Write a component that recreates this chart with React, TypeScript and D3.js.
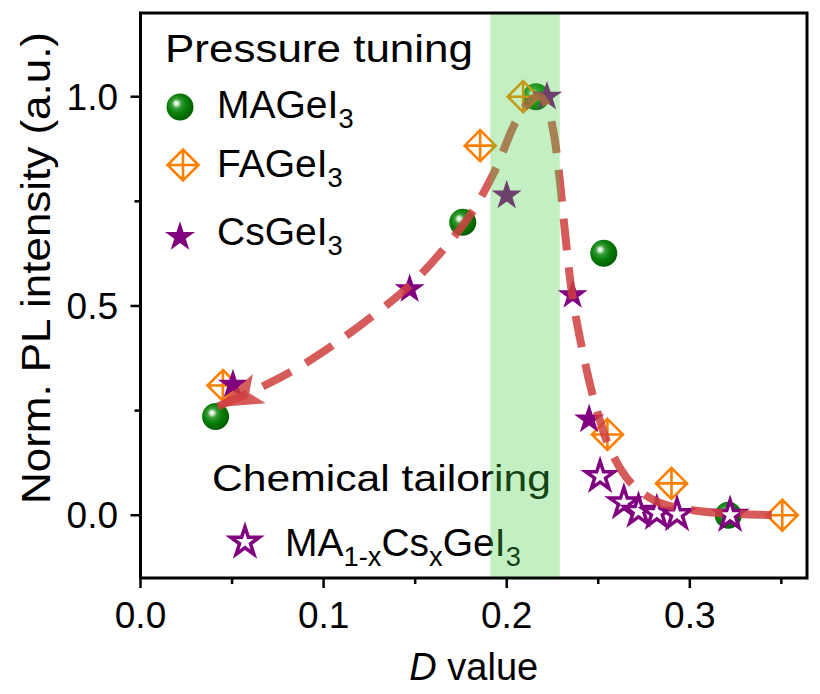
import { useEffect, useRef } from "react";
import * as d3 from "d3";

// MAGeI3 (pressure tuning)
const maD = [0.041, 0.176, 0.216, 0.253, 0.321];
const maI = [0.236, 0.7, 1.0, 0.626, 0.0];
// FAGeI3 (pressure tuning)
const faD = [0.045, 0.1855, 0.209, 0.255, 0.29, 0.3505];
const faI = [0.31, 0.883, 1.0, 0.193, 0.076, 0.0];
// CsGeI3 (pressure tuning)
const csD = [0.0505, 0.147, 0.2, 0.222, 0.236, 0.245];
const csI = [0.312, 0.54, 0.764, 1.0, 0.526, 0.229];
// MA1-xCsxGeI3 (chemical tailoring)
const mixD = [0.251, 0.264, 0.272, 0.282, 0.293, 0.322];
const mixI = [0.093, 0.03, 0.01, 0.005, 0.002, 0.0];
// guide curve (dashed, arrow at the low-D end)
const guideD = [
  0.0423, 0.0653, 0.085, 0.1063, 0.1309, 0.1473, 0.1637, 0.18, 0.1937, 0.2047,
  0.2128, 0.2172, 0.2216, 0.2254, 0.2287, 0.232, 0.2358, 0.2413, 0.2484, 0.2566,
  0.2675, 0.2828, 0.3057, 0.3303, 0.3484,
];
const guideI = [
  0.26, 0.305, 0.35, 0.41, 0.49, 0.55, 0.626, 0.717, 0.824, 0.938,
  0.99, 1.002, 0.983, 0.919, 0.812, 0.669, 0.526, 0.395, 0.264, 0.157,
  0.079, 0.031, 0.0095, 0.0024, 0.0,
];
const bandD = [0.191, 0.229];

const xTicks = [0, 0.1, 0.2, 0.3];
const xMinor = [0.05, 0.15, 0.25, 0.35];
const yTicks = [0, 0.5, 1.0];
const yMinor = [0.25, 0.75];

const width = 820;
const height = 694;
const FONT = "'Liberation Sans', Arial, sans-serif";

type Part = { t: string; sub?: boolean };

export default function App() {
  const svgRef = useRef<SVGSVGElement>(null);

  useEffect(() => {
    if (!svgRef.current) return;
    const svg = d3.select(svgRef.current);
    svg.selectAll("*").remove();

    const margin = { top: 13, right: 13, bottom: 116, left: 140.5 };
    const x = d3.scaleLinear().domain([0, 0.364]).range([margin.left, width - margin.right]);
    const y = d3.scaleLinear().domain([-0.15, 1.2]).range([height - margin.bottom, margin.top]);
    const [x0, x1] = x.range();
    const [y0, y1] = y.range();

    const defs = svg.append("defs");
    const grad = defs
      .append("radialGradient")
      .attr("id", "sphere")
      .attr("cx", 0.42)
      .attr("cy", 0.42)
      .attr("r", 0.62)
      .attr("fx", 0.36)
      .attr("fy", 0.36);
    grad.append("stop").attr("offset", "0%").attr("stop-color", "#ffffff");
    grad.append("stop").attr("offset", "12%").attr("stop-color", "#cfeccf");
    grad.append("stop").attr("offset", "28%").attr("stop-color", "#3a9e3a");
    grad.append("stop").attr("offset", "55%").attr("stop-color", "#0b800b");
    grad.append("stop").attr("offset", "100%").attr("stop-color", "#005a00");

    const red = "#cf3f3f";
    defs
      .append("marker")
      .attr("id", "arrow")
      .attr("markerUnits", "userSpaceOnUse")
      .attr("viewBox", "0 0 48 34")
      .attr("refX", 45)
      .attr("refY", 17)
      .attr("markerWidth", 48)
      .attr("markerHeight", 34)
      .attr("orient", "auto-start-reverse")
      .append("path")
      .attr("d", "M0,1 L47,17 L0,33 L11,17 Z")
      .attr("fill", red)
      .attr("fill-opacity", 0.85);

    const diamond = "M0,-15.5L15.5,0L0,15.5L-15.5,0ZM0,-15.5V15.5M-15.5,0H15.5";
    const star = d3.symbol(d3.symbolStar, 280)();
    const openStar = d3.symbol(d3.symbolStar, 255)();

    const pts = (ds: number[], is: number[]) => ds.map((d, i) => [d, is[i]] as [number, number]);

    // MAGeI3 spheres
    svg
      .append("g")
      .selectAll("circle")
      .data(pts(maD, maI))
      .join("circle")
      .attr("cx", (d) => x(d[0]))
      .attr("cy", (d) => y(d[1]))
      .attr("r", 13.5)
      .attr("fill", "url(#sphere)");

    // FAGeI3 crossed diamonds
    svg
      .append("g")
      .selectAll("path")
      .data(pts(faD, faI))
      .join("path")
      .attr("transform", (d) => `translate(${x(d[0])},${y(d[1])})`)
      .attr("d", diamond)
      .attr("fill", "none")
      .attr("stroke", "#ff8000")
      .attr("stroke-width", 2.6);

    // CsGeI3 filled stars
    svg
      .append("g")
      .selectAll("path")
      .data(pts(csD, csI))
      .join("path")
      .attr("transform", (d) => `translate(${x(d[0])},${y(d[1])})`)
      .attr("d", star)
      .attr("fill", "#800080");

    // MA1-xCsxGeI3 open stars
    svg
      .append("g")
      .selectAll("path")
      .data(pts(mixD, mixI))
      .join("path")
      .attr("transform", (d) => `translate(${x(d[0])},${y(d[1])})`)
      .attr("d", openStar)
      .attr("fill", "#fff")
      .attr("stroke", "#800080")
      .attr("stroke-width", 3.5);

    // dashed guide line
    const line = d3
      .line<[number, number]>()
      .x((d) => x(d[0]))
      .y((d) => y(d[1]))
      .curve(d3.curveCatmullRom.alpha(0.5));
    svg
      .append("path")
      .attr("d", line(pts(guideD, guideI)))
      .attr("fill", "none")
      .attr("stroke", red)
      .attr("stroke-opacity", 0.85)
      .attr("stroke-width", 8)
      .attr("stroke-dasharray", "32 17")
      .attr("marker-start", "url(#arrow)");

    // legend text helper
    const label = (px: number, py: number, parts: Part[], size: number, len?: number) => {
      const t = svg
        .append("text")
        .attr("x", px)
        .attr("y", py)
        .style("font-family", FONT)
        .style("font-size", `${size}px`)
        .attr("fill", "#000");
      if (len) t.attr("textLength", len).attr("lengthAdjust", "spacingAndGlyphs");
      let down = false;
      parts.forEach((p) => {
        const s = t.append("tspan").text(p.t);
        if (p.sub && !down) {
          s.attr("dy", 10).style("font-size", `${size * 0.7}px`);
          down = true;
        } else if (p.sub) {
          s.style("font-size", `${size * 0.7}px`);
        } else if (down) {
          s.attr("dy", -10);
          down = false;
        }
      });
      return t;
    };

    label(165, 62, [{ t: "Pressure tuning" }], 39, 308);
    svg.append("circle").attr("cx", 180).attr("cy", 107).attr("r", 13.5).attr("fill", "url(#sphere)");
    label(217, 118, [{ t: "MAGeI" }, { t: "3", sub: true }], 39);
    svg
      .append("path")
      .attr("transform", "translate(183,165)")
      .attr("d", diamond)
      .attr("fill", "none")
      .attr("stroke", "#ff8000")
      .attr("stroke-width", 2.6);
    label(217, 177, [{ t: "FAGeI" }, { t: "3", sub: true }], 39);
    svg.append("path").attr("transform", "translate(180,237)").attr("d", star).attr("fill", "#800080");
    label(217, 245, [{ t: "CsGeI" }, { t: "3", sub: true }], 39);

    label(212, 491, [{ t: "Chemical tailoring" }], 37, 339);
    svg
      .append("path")
      .attr("transform", "translate(245,542)")
      .attr("d", openStar)
      .attr("fill", "#fff")
      .attr("stroke", "#800080")
      .attr("stroke-width", 3.5);
    label(
      285,
      556,
      [
        { t: "MA" },
        { t: "1-x", sub: true },
        { t: "Cs" },
        { t: "x", sub: true },
        { t: "GeI" },
        { t: "3", sub: true },
      ],
      39,
    );

    // green band laid over everything
    svg
      .append("rect")
      .attr("x", x(bandD[0]))
      .attr("y", y1)
      .attr("width", x(bandD[1]) - x(bandD[0]))
      .attr("height", y0 - y1)
      .attr("fill", "#44cc44")
      .attr("fill-opacity", 0.32);

    // frame
    svg
      .append("rect")
      .attr("x", x0)
      .attr("y", y1)
      .attr("width", x1 - x0)
      .attr("height", y0 - y1)
      .attr("fill", "none")
      .attr("stroke", "#000")
      .attr("stroke-width", 3);

    // ticks
    const tg = svg.append("g").attr("stroke", "#000").attr("stroke-width", 2.5);
    xTicks.forEach((t) => tg.append("line").attr("x1", x(t)).attr("x2", x(t)).attr("y1", y0).attr("y2", y0 + 10));
    xMinor.forEach((t) => tg.append("line").attr("x1", x(t)).attr("x2", x(t)).attr("y1", y0).attr("y2", y0 + 6));
    yTicks.forEach((t) => tg.append("line").attr("y1", y(t)).attr("y2", y(t)).attr("x1", x0).attr("x2", x0 - 10));
    yMinor.forEach((t) => tg.append("line").attr("y1", y(t)).attr("y2", y(t)).attr("x1", x0).attr("x2", x0 - 6));

    svg
      .append("g")
      .selectAll("text")
      .data(xTicks)
      .join("text")
      .attr("x", (d) => x(d))
      .attr("y", 628)
      .attr("text-anchor", "middle")
      .style("font-family", FONT)
      .style("font-size", "37px")
      .text((d) => d3.format(".1f")(d));

    svg
      .append("g")
      .selectAll("text")
      .data(yTicks)
      .join("text")
      .attr("x", 118)
      .attr("y", (d) => y(d) + 13)
      .attr("text-anchor", "end")
      .style("font-family", FONT)
      .style("font-size", "37px")
      .text((d) => d3.format(".1f")(d));

    // axis titles
    const xt = svg
      .append("text")
      .attr("x", (x0 + x1) / 2)
      .attr("y", 680)
      .attr("text-anchor", "middle")
      .style("font-family", FONT)
      .style("font-size", "38px");
    xt.append("tspan").style("font-style", "italic").text("D");
    xt.append("tspan").text(" value");

    svg
      .append("text")
      .attr("transform", "translate(50,268) rotate(-90)")
      .attr("text-anchor", "middle")
      .style("font-family", FONT)
      .style("font-size", "40px")
      .attr("textLength", 472)
      .attr("lengthAdjust", "spacingAndGlyphs")
      .text("Norm. PL intensity (a.u.)");
  }, []);

  return (
    <svg
      ref={svgRef}
      width={width}
      height={height}
      style={{ position: "absolute", left: 0, top: 0, background: "#fff" }}
    />
  );
}
